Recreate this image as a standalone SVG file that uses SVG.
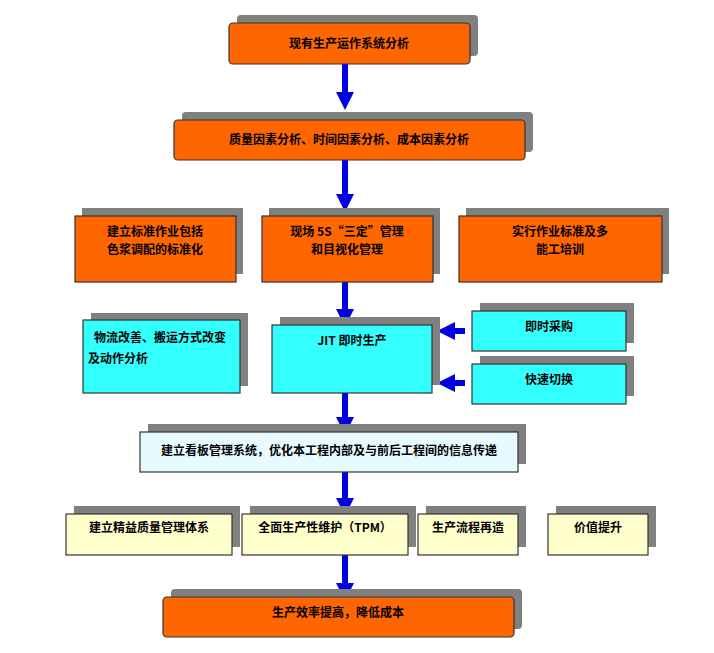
<svg xmlns="http://www.w3.org/2000/svg" width="714" height="653" viewBox="0 0 714 653">
<style>
.sh{fill:#808080}
.o{fill:#ff6600;stroke:#333;stroke-width:1.2}
.c{fill:#33ffff;stroke:#333;stroke-width:1.2}
.lb{fill:#e6faff;stroke:#333;stroke-width:1.2}
.y{fill:#ffffcc;stroke:#333;stroke-width:1.2}
text{font-family:"Noto Sans CJK SC",sans-serif;font-size:12px;font-weight:bold;fill:#000;text-anchor:middle}
.a{stroke:#0000e0;stroke-width:6;fill:none;marker-end:url(#ah)}
</style>
<defs><marker id="ah" markerWidth="3" markerHeight="3" refX="1.5" refY="1.5" orient="auto"><path d="M0,0L3,1.5L0,3z" fill="#0000e0"/></marker></defs>
<rect width="714" height="653" fill="#fff"/>
<g id="connectors">
<line class="a" x1="345" y1="64" x2="345" y2="101"/>
<line class="a" x1="345" y1="160" x2="345" y2="203"/>
<line class="a" x1="345" y1="282" x2="345" y2="318"/>
<line class="a" x1="345" y1="393" x2="345" y2="426"/>
<line class="a" x1="345" y1="472" x2="345" y2="507"/>
<line class="a" x1="345" y1="555" x2="345" y2="592"/>
<line class="a" x1="465" y1="331" x2="446" y2="331"/>
<line class="a" x1="465" y1="383" x2="446" y2="383"/>
</g>
<g id="n1"><rect class="sh" x="237" y="15" width="241" height="41" rx="4"/><rect class="o" x="229" y="23" width="241" height="41" rx="4"/><text x="349" y="48">现有生产运作系统分析</text></g>
<g id="n2"><rect class="sh" x="182" y="112" width="351" height="40" rx="4"/><rect class="o" x="174" y="120" width="351" height="40" rx="4"/><text x="349" y="144">质量因素分析、时间因素分析、成本因素分析</text></g>
<g id="n3"><rect class="sh" x="82" y="208" width="161" height="66"/><rect class="o" x="75" y="216" width="161" height="66"/><text x="155" y="236">建立标准作业包括</text><text x="155" y="254">色浆调配的标准化</text></g>
<g id="n4"><rect class="sh" x="269" y="208" width="171" height="66"/><rect class="o" x="262" y="216" width="171" height="66"/><text x="347" y="236">现场 5S“三定”管理</text><text x="347" y="254">和目视化管理</text></g>
<g id="n5"><rect class="sh" x="466" y="208" width="203" height="66"/><rect class="o" x="459" y="216" width="203" height="66"/><text x="560" y="236">实行作业标准及多</text><text x="560" y="254">能工培训</text></g>
<g id="n6"><rect class="sh" x="91" y="313" width="157" height="73"/><rect class="c" x="83" y="320" width="157" height="73"/><text x="160" y="342">物流改善、搬运方式改变</text><text x="118" y="363">及动作分析</text></g>
<g id="n7"><rect class="sh" x="280" y="317" width="160" height="68"/><rect class="c" x="272" y="325" width="160" height="68"/><text x="352" y="345">JIT 即时生产</text></g>
<g id="n8"><rect class="sh" x="480" y="303" width="154" height="40"/><rect class="c" x="472" y="311" width="154" height="40"/><text x="549" y="331">即时采购</text></g>
<g id="n9"><rect class="sh" x="480" y="356" width="154" height="40"/><rect class="c" x="472" y="364" width="154" height="40"/><text x="549" y="384">快速切换</text></g>
<g id="n10"><rect class="sh" x="148" y="424" width="378" height="40"/><rect class="lb" x="140" y="432" width="378" height="40"/><text x="329" y="455">建立看板管理系统，优化本工程内部及与前后工程间的信息传递</text></g>
<g id="n11"><rect class="sh" x="74" y="506" width="166" height="41"/><rect class="y" x="66" y="514" width="166" height="41"/><text x="149" y="532">建立精益质量管理体系</text></g>
<g id="n12"><rect class="sh" x="250" y="506" width="166" height="41"/><rect class="y" x="242" y="514" width="166" height="41"/><text x="325" y="532">全面生产性维护（TPM）</text></g>
<g id="n13"><rect class="sh" x="426" y="506" width="100" height="41"/><rect class="y" x="418" y="514" width="100" height="41"/><text x="468" y="532">生产流程再造</text></g>
<g id="n14"><rect class="sh" x="556" y="506" width="100" height="41"/><rect class="y" x="548" y="514" width="100" height="41"/><text x="598" y="532">价值提升</text></g>
<g id="n15"><rect class="sh" x="171" y="589" width="351" height="40" rx="4"/><rect class="o" x="163" y="597" width="351" height="40" rx="4"/><text x="338" y="617">生产效率提高，降低成本</text></g>
</svg>
